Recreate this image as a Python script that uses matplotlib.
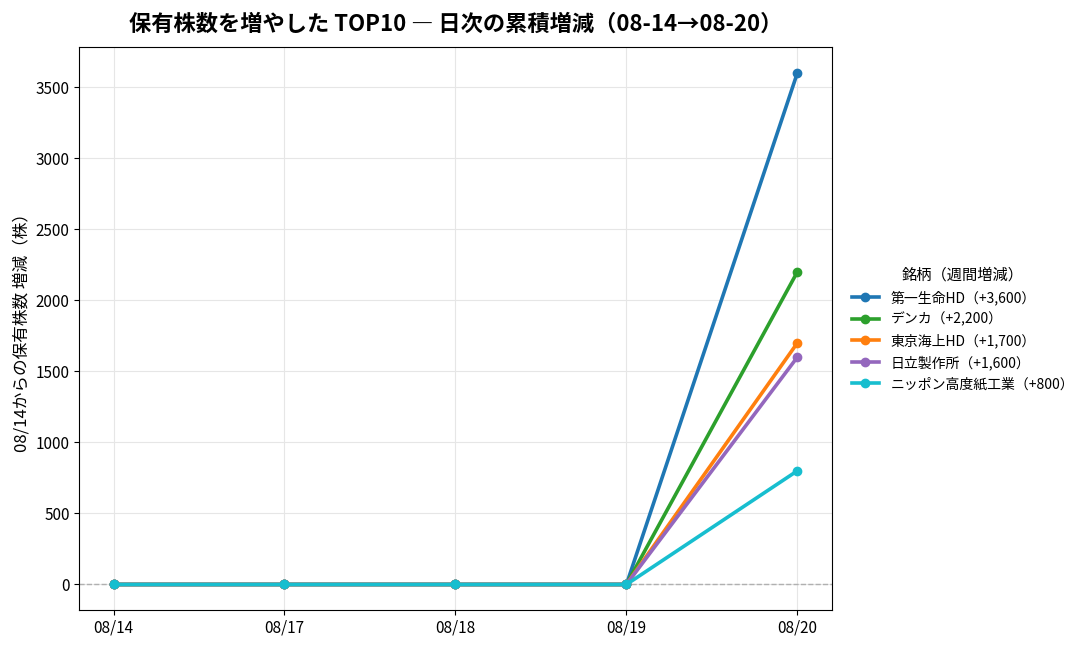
import matplotlib
matplotlib.use("Agg")
import matplotlib.pyplot as plt

plt.rcParams['font.family'] = ['Noto Sans CJK JP', 'DejaVu Sans']

dates = ['08/14', '08/17', '08/18', '08/19', '08/20']
names = ['第一生命HD', 'デンカ', '東京海上HD', '日立製作所', 'ニッポン高度紙工業']
daiichi = [0, 0, 0, 0, 3600]
denka = [0, 0, 0, 0, 2200]
tokio = [0, 0, 0, 0, 1700]
hitachi = [0, 0, 0, 0, 1600]
nippon_kodoshi = [0, 0, 0, 0, 800]
series = [daiichi, denka, tokio, hitachi, nippon_kodoshi]
colors = ['#1f77b4', '#2ca02c', '#ff7f0e', '#9467bd', '#17becf']

fig, ax = plt.subplots(figsize=(10.87, 6.49), dpi=100)
x = list(range(len(dates)))
for name, vals, c in zip(names, series, colors):
    ax.plot(x, vals, '-o', color=c, lw=2.6, ms=6, zorder=3,
            label=f'{name}（+{vals[-1]:,}）')

# zero line
ax.axhline(0, color='#b0b0b0', lw=1, ls='--', zorder=2)
ax.set_xticks(x)
ax.set_xticklabels(dates)
ax.set_ylim(-180, 3780)
ax.set_xlim(-0.2, 4.2)
ax.grid(True, color='#e6e6e6', lw=0.8)
ax.set_axisbelow(True)
ax.tick_params(labelsize=11)
ax.set_ylabel('08/14からの保有株数 増減（株）', fontsize=12)
ax.set_title('保有株数を増やした TOP10 ― 日次の累積増減（08-14→08-20）',
             fontsize=16, fontweight='bold', pad=12)
leg = ax.legend(title='銘柄（週間増減）', loc='center left', bbox_to_anchor=(1.01, 0.5),
                frameon=False, fontsize=10, title_fontsize=11)

plt.subplots_adjust(left=0.073, right=0.765, top=0.927, bottom=0.06)
plt.savefig('out.png')
